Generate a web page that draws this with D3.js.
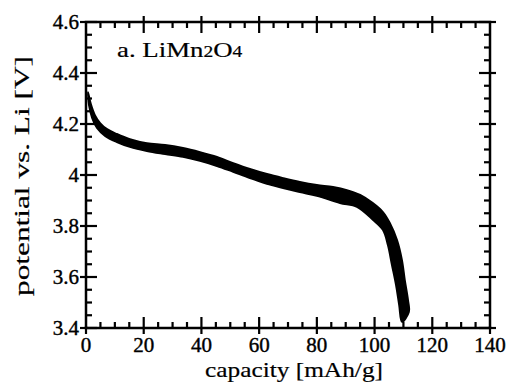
<!DOCTYPE html>
<html>
<head>
<meta charset="utf-8">
<script src="https://cdn.jsdelivr.net/npm/d3@7"></script>
<style>
  html, body { margin: 0; padding: 0; background: #fff; }
  svg { display: block; }
  text { font-family: "Liberation Serif", "Times New Roman", serif; fill: #000; stroke: #000; stroke-width: 0.4px; }
  text.title { stroke-width: 0.2px; }
</style>
</head>
<body>
<svg id="chart" width="509" height="385"></svg>
<script>
// Discharge curves of LiMn2O4: the best (upper/right) and the most faded
// (lower/left) cycle bound the band formed by the overlaid cycles.
const bestCapacity = [0.7, 1.7, 3.1, 4.9, 7.3, 10.7, 15.2, 21.1, 27.4, 33.6, 39.5, 45.4, 51, 56.8, 62.7, 68.3, 74.1, 80, 85.6, 90.4, 95, 99.4, 102.9, 105.3, 107.8, 109.5, 110.5, 111.6, 111.9];
const bestPotential = [4.325, 4.278, 4.235, 4.204, 4.18, 4.161, 4.141, 4.125, 4.118, 4.106, 4.09, 4.071, 4.047, 4.024, 4.004, 3.988, 3.973, 3.961, 3.953, 3.941, 3.922, 3.89, 3.855, 3.812, 3.745, 3.667, 3.588, 3.51, 3.463];
const fadedCapacity = [0.7, 1.0, 2.1, 3.8, 6.6, 10.7, 15.2, 21.1, 27.4, 33.6, 39.5, 45.4, 51, 56.8, 62.7, 68.3, 74.1, 80, 88, 93.9, 99.4, 102.9, 104.6, 106, 107.4, 108.5, 109.5];
const fadedPotential = [4.314, 4.275, 4.224, 4.184, 4.153, 4.129, 4.11, 4.094, 4.082, 4.071, 4.055, 4.035, 4.012, 3.988, 3.965, 3.949, 3.933, 3.918, 3.89, 3.875, 3.824, 3.784, 3.725, 3.647, 3.569, 3.49, 3.424];

const xTickValues = [0, 20, 40, 60, 80, 100, 120, 140];
const xTickLabels = ["0", "20", "40", "60", "80", "100", "120", "140"];
const yTickValues = [3.4, 3.6, 3.8, 4.0, 4.2, 4.4, 4.6];
const yTickLabels = ["3.4", "3.6", "3.8", "4", "4.2", "4.4", "4.6"];

const svg = d3.select("#chart");
const plotLeft = 86, plotRight = 490, plotTop = 22, plotBottom = 328;

const x = d3.scaleLinear().domain([0, 140]).range([plotLeft, plotRight]);
const y = d3.scaleLinear().domain([3.4, 4.6]).range([plotBottom, plotTop]);

// band between the two bounding cycles
const best = bestCapacity.map((c, i) => [c, bestPotential[i]]);
const faded = fadedCapacity.map((c, i) => [c, fadedPotential[i]]);
const outline = best.concat(faded.slice().reverse());
const line = d3.line().x(d => x(d[0])).y(d => y(d[1])).curve(d3.curveCatmullRomClosed.alpha(0.5));

svg.append("path")
  .attr("d", line(outline))
  .attr("fill", "#000")
  .attr("stroke", "#000")
  .attr("stroke-width", 1.8)
  .attr("stroke-linejoin", "round");

// frame
svg.append("rect")
  .attr("x", plotLeft).attr("y", plotTop)
  .attr("width", plotRight - plotLeft).attr("height", plotBottom - plotTop)
  .attr("fill", "none").attr("stroke", "#000").attr("stroke-width", 2.5);

const ticks = svg.append("g").attr("stroke", "#000").attr("stroke-width", 2.2);
const majIn = 11, majOut = 6, minIn = 6;

const xMinor = d3.range(5, 140, 5).filter(v => v % 20 !== 0);
const yMinor = d3.range(0, 24).map(i => 3.4 + i * 0.05).filter((v, i) => i % 4 !== 0);

// bottom and top ticks
[[plotBottom, -1], [plotTop, 1]].forEach(([y0, dir]) => {
  ticks.selectAll(null).data(xTickValues.slice(1, -1)).join("line")
    .attr("x1", d => x(d)).attr("x2", d => x(d))
    .attr("y1", y0 - dir * majOut).attr("y2", y0 + dir * majIn);
  ticks.selectAll(null).data(xMinor).join("line")
    .attr("x1", d => x(d)).attr("x2", d => x(d))
    .attr("y1", y0).attr("y2", y0 + dir * minIn);
});
// left and right ticks
[[plotLeft, 1], [plotRight, -1]].forEach(([x0, dir]) => {
  ticks.selectAll(null).data(yTickValues).join("line")
    .attr("y1", d => y(d)).attr("y2", d => y(d))
    .attr("x1", x0 - dir * majOut).attr("x2", x0 + dir * majIn);
  ticks.selectAll(null).data(yMinor).join("line")
    .attr("y1", d => y(d)).attr("y2", d => y(d))
    .attr("x1", x0).attr("x2", x0 + dir * minIn);
});
// corner ticks on the bottom axis at 0 and 140
ticks.selectAll(null).data([0, 140]).join("line")
  .attr("x1", d => x(d)).attr("x2", d => x(d))
  .attr("y1", plotBottom + majOut).attr("y2", plotBottom - 2);

// tick labels
svg.append("g").selectAll("text").data(xTickValues).join("text")
  .attr("x", d => x(d)).attr("y", plotBottom + 24)
  .attr("text-anchor", "middle").attr("font-size", 21)
  .text((d, i) => xTickLabels[i]);

svg.append("g").selectAll("text").data(yTickValues).join("text")
  .attr("x", plotLeft - 7).attr("y", d => y(d) + 7)
  .attr("text-anchor", "end").attr("font-size", 21)
  .text((d, i) => yTickLabels[i]);

// axis titles (set in a wide face)
svg.append("text").attr("class", "title")
  .attr("x", 205).attr("y", 377)
  .attr("font-size", 22)
  .attr("textLength", 178).attr("lengthAdjust", "spacingAndGlyphs")
  .text("capacity [mAh/g]");

svg.append("text").attr("class", "title")
  .attr("transform", "translate(29,296) rotate(-90)")
  .attr("font-size", 22)
  .attr("textLength", 240).attr("lengthAdjust", "spacingAndGlyphs")
  .text("potential vs. Li [V]");

// sample label
const lbl = svg.append("text").attr("class", "title")
  .attr("transform", "translate(117,57) scale(1.22,1)")
  .attr("font-size", 22);
lbl.append("tspan").text("a. LiMn");
lbl.append("tspan").attr("font-size", 16).text("2");
lbl.append("tspan").text("O");
lbl.append("tspan").attr("font-size", 16).text("4");
</script>
</body>
</html>
